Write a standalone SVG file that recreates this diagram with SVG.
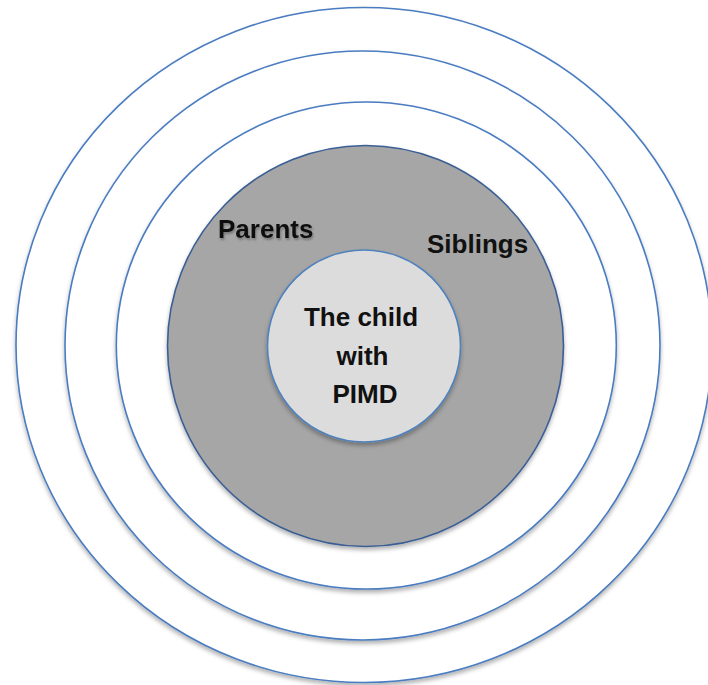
<svg xmlns="http://www.w3.org/2000/svg" width="708" height="685" viewBox="0 0 708 685">
  <defs>
    <filter id="shadow" x="-10%" y="-10%" width="120%" height="125%">
      <feDropShadow dx="0" dy="3" stdDeviation="2.2" flood-color="#000" flood-opacity="0.3"/>
    </filter>
    <filter id="blurtext" x="-10%" y="-30%" width="120%" height="160%">
      <feGaussianBlur in="SourceAlpha" stdDeviation="1.2" result="b"/>
      <feOffset in="b" dx="1" dy="1.5" result="o"/>
      <feFlood flood-color="#555" flood-opacity="0.6"/>
      <feComposite in2="o" operator="in" result="s"/>
      <feGaussianBlur in="SourceGraphic" stdDeviation="0.6" result="t"/>
      <feMerge><feMergeNode in="s"/><feMergeNode in="t"/></feMerge>
    </filter>
    <style>
      .ring { fill: #ffffff; stroke: #4a7cc0; stroke-width: 1.6; filter: url(#shadow); }
      .core { fill: #a6a6a6; stroke: #3b5f95; stroke-width: 1.6; filter: url(#shadow); }
      .child { fill: #dcdcdc; stroke: #4f81bd; stroke-width: 1.6; filter: url(#shadow); }
      .lbl { font-family: "Liberation Sans", Arial, sans-serif; font-weight: bold; font-size: 26px; fill: #111; }
      .ctr { text-anchor: middle; }
    </style>
  </defs>
  <rect width="708" height="685" fill="#ffffff"/>
  <g id="ring-outer">
    <ellipse class="ring" cx="364" cy="345" rx="348" ry="337.5"/>
  </g>
  <g id="ring-2">
    <ellipse class="ring" cx="362.5" cy="345.5" rx="297.5" ry="294.5"/>
  </g>
  <g id="ring-3">
    <ellipse class="ring" cx="366.3" cy="345.5" rx="250" ry="243.5"/>
  </g>
  <g id="family">
    <ellipse class="core" cx="365.5" cy="346" rx="198" ry="200.5"/>
    <text class="lbl" x="218" y="238" filter="url(#blurtext)" fill="#222">Parents</text>
    <text class="lbl" x="427" y="253">Siblings</text>
  </g>
  <g id="child">
    <ellipse class="child" cx="364" cy="346" rx="96.5" ry="96"/>
    <text class="lbl ctr" x="361" y="326">The child</text>
    <text class="lbl ctr" x="362.5" y="365">with</text>
    <text class="lbl ctr" x="365" y="403">PIMD</text>
  </g>
  <g id="connectors"/>
</svg>
